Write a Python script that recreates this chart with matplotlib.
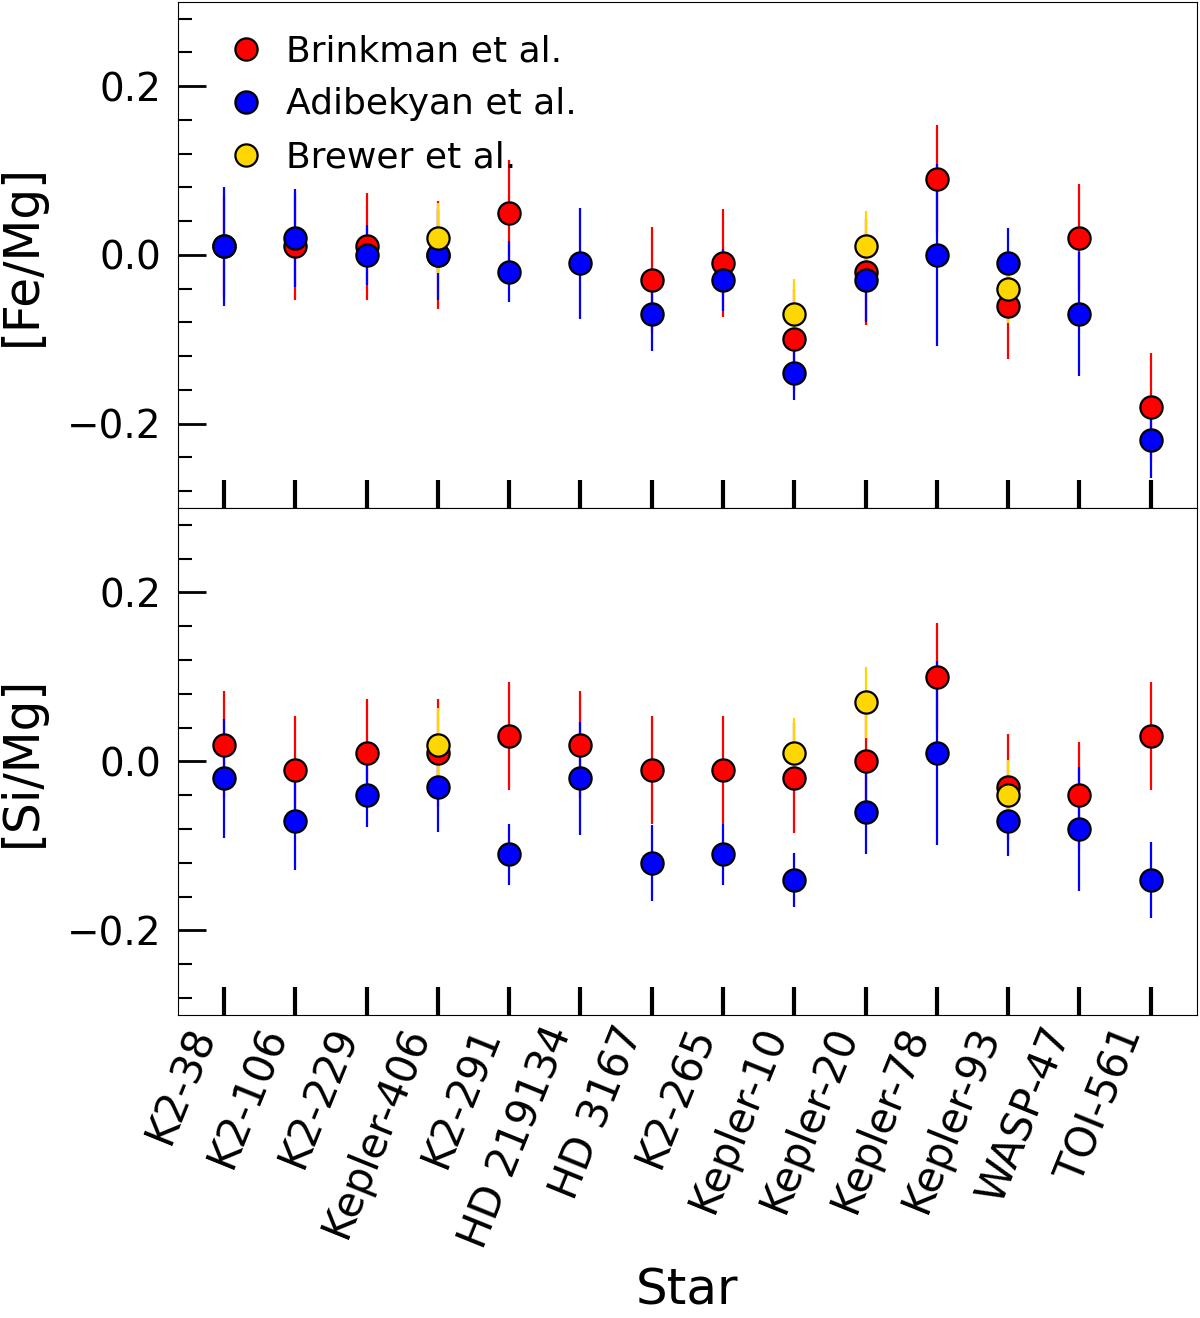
import numpy as np
import matplotlib
matplotlib.use('Agg')
from matplotlib import pyplot as plt
from matplotlib.ticker import AutoMinorLocator

stars = ['K2-38', 'K2-106', 'K2-229', 'Kepler-406', 'K2-291', 'HD 219134', 'HD 3167',
         'K2-265', 'Kepler-10', 'Kepler-20', 'Kepler-78', 'Kepler-93', 'WASP-47', 'TOI-561']

nan = np.nan

# [Fe/Mg]
fe_brink = [0.01, 0.01, 0.01, 0.00, 0.05, nan, -0.03, -0.01, -0.10, -0.02, 0.09, -0.06, 0.02, -0.18]
fe_brink_err = [0.06, 0.063, 0.063, 0.064, 0.063, nan, 0.063, 0.064, 0.06, 0.063, 0.064, 0.064, 0.064, 0.064]
fe_adib = [0.01, 0.02, 0.00, 0.00, -0.02, -0.01, -0.07, -0.03, -0.14, -0.03, 0.00, -0.01, -0.07, -0.22]
fe_adib_err = [0.07, 0.058, 0.036, 0.053, 0.036, 0.066, 0.044, 0.037, 0.032, 0.05, 0.108, 0.042, 0.073, 0.044]
fe_brew = [nan, nan, nan, 0.02, nan, nan, nan, nan, -0.07, 0.01, nan, -0.04, nan, nan]
fe_brew_err = [nan, nan, nan, 0.042, nan, nan, nan, nan, 0.042, 0.042, nan, 0.041, nan, nan]

# [Si/Mg]
si_brink = [0.02, -0.01, 0.01, 0.01, 0.03, 0.02, -0.01, -0.01, -0.02, 0.00, 0.10, -0.03, -0.04, 0.03]
si_brink_err = [0.063, 0.064, 0.064, 0.064, 0.064, 0.063, 0.064, 0.064, 0.065, 0.064, 0.064, 0.063, 0.063, 0.064]
si_adib = [-0.02, -0.07, -0.04, -0.03, -0.11, -0.02, -0.12, -0.11, -0.14, -0.06, 0.01, -0.07, -0.08, -0.14]
si_adib_err = [0.07, 0.058, 0.037, 0.054, 0.036, 0.067, 0.045, 0.036, 0.032, 0.05, 0.109, 0.042, 0.073, 0.045]
si_brew = [nan, nan, nan, 0.02, nan, nan, nan, nan, 0.01, 0.07, nan, -0.04, nan, nan]
si_brew_err = [nan, nan, nan, 0.043, nan, nan, nan, nan, 0.041, 0.042, nan, 0.042, nan, nan]

colors = ['red', 'blue', 'gold']
labels = ['Brinkman et al.', 'Adibekyan et al.', 'Brewer et al.']


def panel(ax, series, ylabel):
    x = np.arange(len(stars))
    # error bars first, markers on top
    for i, (v, e) in enumerate(series):
        ax.errorbar(x, v, yerr=e, fmt='none', ecolor=colors[i], elinewidth=1.6,
                    capsize=0, zorder=1 + 0.1 * i)
    for i, (v, e) in enumerate(series):
        ax.plot(x, v, 'o', color=colors[i], markeredgecolor='black', markeredgewidth=1.6,
                markersize=16, label=labels[i], zorder=3 + i, linestyle='none')
    ax.set_xlim(-0.65, len(stars) - 0.35)
    ax.set_ylim(-0.3, 0.3)
    ax.set_xticks(x)
    ax.set_yticks([-0.2, 0.0, 0.2])
    ax.yaxis.set_minor_locator(AutoMinorLocator(5))
    ax.tick_params(axis='y', which='major', direction='in', length=20, width=2, labelsize=28, pad=12)
    ax.tick_params(axis='y', which='minor', direction='in', length=10, width=1.5)
    ax.tick_params(axis='x', which='major', direction='in', length=20, width=3, labelsize=30)
    ax.set_ylabel(ylabel, fontsize=35, labelpad=15)


fig = plt.figure(figsize=(12, 13.18), dpi=100)
ax1 = fig.add_axes([0.148, 0.6146, 0.8495, 0.384])
ax2 = fig.add_axes([0.148, 0.2299, 0.8495, 0.3847], sharex=ax1)

panel(ax1, [(fe_brink, fe_brink_err), (fe_adib, fe_adib_err), (fe_brew, fe_brew_err)], '[Fe/Mg]')
panel(ax2, [(si_brink, si_brink_err), (si_adib, si_adib_err), (si_brew, si_brew_err)], '[Si/Mg]')

ax1.tick_params(axis='x', labelbottom=False)
ax2.set_xticklabels(stars, rotation=68, ha='right')
ax2.set_xlabel('Star', fontsize=36, labelpad=9)

ax1.legend(loc='upper left', frameon=False, fontsize=26, handletextpad=0.1,
           labelspacing=0.53, borderaxespad=0.5, markerscale=1.0)

fig.savefig('out.png', dpi=100)
